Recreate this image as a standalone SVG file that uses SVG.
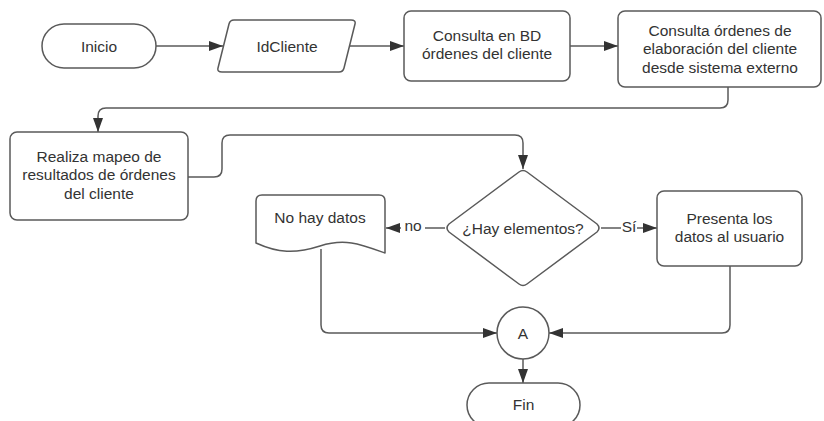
<svg xmlns="http://www.w3.org/2000/svg" width="824" height="421" viewBox="0 0 824 421">
  <style>
    .shape { fill: #ffffff; stroke: #5a5a5a; stroke-width: 1.5; stroke-linejoin: round; }
    .edge { fill: none; stroke: #5a5a5a; stroke-width: 1.5; }
    .lbl { font-family: "Liberation Sans", Arial, sans-serif; font-size: 15.5px; fill: #333333; text-anchor: middle; }
  </style>
  <defs>
    <marker id="arrow" markerUnits="userSpaceOnUse" markerWidth="14" markerHeight="12" viewBox="0 0 14 12" refX="14" refY="6" orient="auto">
      <path d="M0,1 L14,6 L0,11 Z" fill="#333333"/>
    </marker>
  </defs>
  <rect width="824" height="421" fill="#ffffff"/>

  <g id="connectors">
    <path class="edge" d="M156,46 H223" marker-end="url(#arrow)"/>
    <path class="edge" d="M350,46 H404" marker-end="url(#arrow)"/>
    <path class="edge" d="M570,46 H618" marker-end="url(#arrow)"/>
    <path class="edge" d="M728,87 V100 Q728,108 720,108 H106 Q98,108 98,116 V132" marker-end="url(#arrow)"/>
    <path class="edge" d="M188,177 H214 Q222,177 222,169 V143 Q222,135 230,135 H515 Q523,135 523,143 V169" marker-end="url(#arrow)"/>
    <path class="edge" d="M445,228 H425"/>
    <path class="edge" d="M401,228 H386" marker-end="url(#arrow)"/>
    <text class="lbl" x="413" y="230.5">no</text>
    <path class="edge" d="M601,228 H621"/>
    <path class="edge" d="M637,228 H657" marker-end="url(#arrow)"/>
    <text class="lbl" x="629" y="232">Sí</text>
    <path class="edge" d="M730,266 V325 Q730,333 722,333 H549" marker-end="url(#arrow)"/>
    <path class="edge" d="M321,249 V325 Q321,333 329,333 H497" marker-end="url(#arrow)"/>
    <path class="edge" d="M523,359 V383" marker-end="url(#arrow)"/>
  </g>

  <g id="inicio">
    <rect class="shape" x="42" y="24" width="114" height="44" rx="22" ry="22"/>
    <text class="lbl" x="99" y="51.5">Inicio</text>
  </g>

  <g id="id-cliente">
    <path class="shape" d="M234,20 H351 Q356,20 355,24 L344,68 Q343,72 339,72 H222 Q217,72 218,68 L229,24 Q230,20 234,20 Z"/>
    <text class="lbl" x="287" y="51.5">IdCliente</text>
  </g>

  <g id="consulta-bd">
    <rect class="shape" x="404" y="11" width="166" height="70" rx="7" ry="7"/>
    <text class="lbl" x="487" y="40.5">Consulta en BD</text>
    <text class="lbl" x="487" y="59">órdenes del cliente</text>
  </g>

  <g id="consulta-externo">
    <rect class="shape" x="618" y="11" width="203" height="76" rx="7" ry="7"/>
    <text class="lbl" x="720" y="35.5">Consulta órdenes de</text>
    <text class="lbl" x="720" y="54">elaboración del cliente</text>
    <text class="lbl" x="720" y="72.5">desde sistema externo</text>
  </g>

  <g id="mapeo">
    <rect class="shape" x="10" y="132" width="178" height="88" rx="7" ry="7"/>
    <text class="lbl" x="99" y="161.5">Realiza mapeo de</text>
    <text class="lbl" x="99" y="180">resultados de órdenes</text>
    <text class="lbl" x="99" y="198.5">del cliente</text>
  </g>

  <g id="hay-elementos">
    <path class="shape" d="M519,172 Q523,169 527,172 L597,224 Q601,228 597,232 L527,284 Q523,287 519,284 L449,232 Q445,228 449,224 Z"/>
    <text class="lbl" x="523" y="233.5">¿Hay elementos?</text>
  </g>

  <g id="no-hay-datos">
    <path class="shape" d="M262,195 H379 Q385,195 385,201 V253 C360,244 345,238 320,246 C295,254 278,253 256,243 V201 Q256,195 262,195 Z"/>
    <text class="lbl" x="320" y="223">No hay datos</text>
  </g>

  <g id="presenta">
    <rect class="shape" x="657" y="191" width="145" height="75" rx="7" ry="7"/>
    <text class="lbl" x="729.5" y="223.5">Presenta los</text>
    <text class="lbl" x="729.5" y="242">datos al usuario</text>
  </g>

  <g id="conector-a">
    <circle class="shape" cx="523" cy="333" r="26"/>
    <text class="lbl" x="523" y="338.5">A</text>
  </g>

  <g id="fin">
    <rect class="shape" x="467" y="383" width="113" height="44" rx="22" ry="22"/>
    <text class="lbl" x="523.5" y="410">Fin</text>
  </g>
</svg>
